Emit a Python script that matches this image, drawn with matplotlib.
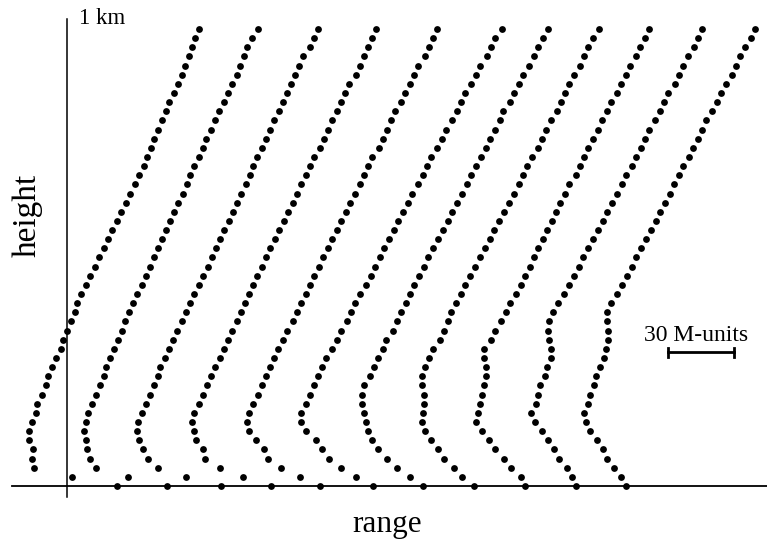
import numpy as np
import matplotlib
matplotlib.use("Agg")
import matplotlib.pyplot as plt

plt.rcParams['font.family'] = ['Liberation Serif', 'DejaVu Serif']

# height grid of each profile (m), one dot every 20 m up to 1 km
heights = np.arange(0, 1001, 20)

# abscissa of each M-profile (range offset + M), in plot units
# (2.2 plot units = 1 M-unit), listed from the surface upwards
prof1 = [117, 72, 34, 32, 33, 29, 29, 32, 36, 37, 42, 46, 48, 52, 56, 61, 63,
         67, 71, 75, 77, 81, 86, 90, 95, 99, 104, 108, 112, 117, 121, 126, 130,
         135, 139, 144, 147, 151, 154, 158, 162, 166, 169, 174, 178, 182, 185,
         189, 192, 195, 199]
prof2 = [167, 128, 96, 90, 87, 86, 84, 86, 88, 92, 96, 100, 104, 106, 110, 114,
         118, 122, 125, 129, 133, 137, 142, 146, 150, 154, 158, 162, 166, 170,
         174, 178, 183, 187, 190, 194, 199, 203, 206, 211, 215, 219, 224, 228,
         232, 237, 240, 244, 247, 252, 258]
prof3 = [221, 186, 158, 148, 143, 139, 137, 138, 142, 146, 150, 154, 158, 160,
         165, 169, 173, 177, 182, 186, 190, 194, 199, 203, 208, 212, 216, 220,
         224, 229, 233, 237, 241, 246, 250, 253, 257, 262, 266, 270, 274, 279,
         283, 287, 291, 295, 299, 303, 310, 314, 318]
prof4 = [271, 243, 220, 205, 203, 196, 194, 192, 194, 199, 203, 207, 211, 215,
         220, 224, 228, 232, 237, 241, 245, 249, 253, 257, 262, 266, 270, 275,
         279, 284, 288, 293, 297, 301, 306, 310, 314, 320, 324, 328, 332, 337,
         341, 345, 349, 356, 360, 364, 368, 372, 376]
prof5 = [320, 300, 281, 268, 264, 256, 249, 247, 249, 253, 258, 262, 266, 270,
         274, 278, 283, 287, 293, 297, 301, 306, 310, 314, 319, 323, 328, 332,
         337, 341, 346, 350, 355, 360, 364, 368, 372, 379, 383, 387, 391, 395,
         401, 405, 410, 414, 418, 425, 429, 433, 437]
prof6 = [373, 356, 341, 329, 322, 316, 306, 301, 301, 306, 310, 314, 318, 322,
         326, 332, 337, 341, 347, 351, 355, 360, 366, 371, 375, 380, 384, 389,
         394, 398, 403, 408, 412, 418, 423, 427, 431, 437, 442, 446, 452, 457,
         461, 465, 471, 476, 480, 487, 491, 495, 502]
prof7 = [423, 410, 397, 387, 378, 372, 368, 366, 364, 362, 362, 364, 370, 374,
         378, 383, 386, 393, 397, 401, 406, 410, 414, 419, 424, 428, 433, 438,
         443, 448, 452, 457, 462, 467, 471, 476, 481, 486, 490, 495, 500, 503,
         510, 514, 519, 523, 529, 534, 538, 543, 548]
prof8 = [474, 462, 454, 444, 438, 431, 425, 422, 423, 424, 424, 422, 422, 425,
         429, 433, 440, 444, 448, 451, 456, 461, 465, 470, 475, 480, 485, 490,
         494, 499, 504, 509, 514, 519, 523, 527, 532, 538, 542, 546, 551, 557,
         561, 565, 569, 574, 580, 584, 588, 593, 599]
prof9 = [525, 521, 511, 504, 495, 489, 482, 476, 478, 480, 482, 484, 486, 486,
         484, 484, 491, 495, 501, 506, 510, 516, 521, 525, 530, 534, 538, 543,
         547, 552, 556, 560, 565, 569, 576, 580, 584, 588, 593, 598, 602, 607,
         611, 617, 621, 626, 630, 636, 640, 645, 649]
prof10 = [576, 572, 567, 559, 554, 548, 542, 535, 531, 536, 538, 540, 545, 547,
          551, 551, 549, 548, 549, 553, 558, 564, 569, 574, 579, 583, 588, 593,
          598, 603, 607, 612, 617, 622, 626, 632, 636, 641, 645, 649, 655, 660,
          664, 668, 675, 679, 683, 688, 694, 698, 702]
prof11 = [626, 621, 614, 607, 603, 597, 590, 586, 584, 588, 590, 594, 596, 600,
          604, 606, 608, 608, 607, 607, 611, 617, 622, 627, 632, 636, 641, 646,
          651, 656, 660, 665, 670, 674, 679, 683, 689, 693, 698, 702, 706, 712,
          717, 721, 726, 732, 736, 740, 745, 751, 755]

profiles = [prof1, prof2, prof3, prof4, prof5, prof6, prof7, prof8, prof9,
            prof10, prof11]

UNITS_PER_M = 2.2      # plot units per M-unit
SCALE_M = 30           # length of the scale bar in M-units

fig = plt.figure(figsize=(7.67, 5.41), dpi=100)
ax = fig.add_axes([0, 0, 1, 1])
ax.set_xlim(0, 767)
ax.set_ylim(-120.4, 1063.5)
ax.axis('off')

# axes drawn by hand, like the original sketch
ax.plot([12, 767], [0, 0], color='black', lw=1.3, zorder=1)
ax.plot([67, 67], [-24, 1022], color='black', lw=1.1, zorder=1)

for prof in profiles:
    ax.plot(prof, heights, linestyle='none', marker='o', markersize=4.9,
            color='black', markeredgewidth=0, zorder=2)

ax.text(79, 1010, '1 km', fontsize=16.5, ha='left', va='baseline')
ax.text(27, 593, 'height', fontsize=24, rotation=90, ha='center', va='center')
ax.text(387, -101, 'range', fontsize=22.5, ha='center', va='baseline')

# scale bar
bar_x0 = 668
bar_x1 = bar_x0 + SCALE_M * UNITS_PER_M
bar_h = 293
ax.plot([bar_x0, bar_x1], [bar_h, bar_h], color='black', lw=2)
ax.plot([bar_x0, bar_x0], [bar_h - 10, bar_h + 10], color='black', lw=2)
ax.plot([bar_x1, bar_x1], [bar_h - 10, bar_h + 10], color='black', lw=2)
ax.text(644, 318, '30 M-units', fontsize=17, ha='left', va='baseline')

fig.savefig('out.png', dpi=100)
